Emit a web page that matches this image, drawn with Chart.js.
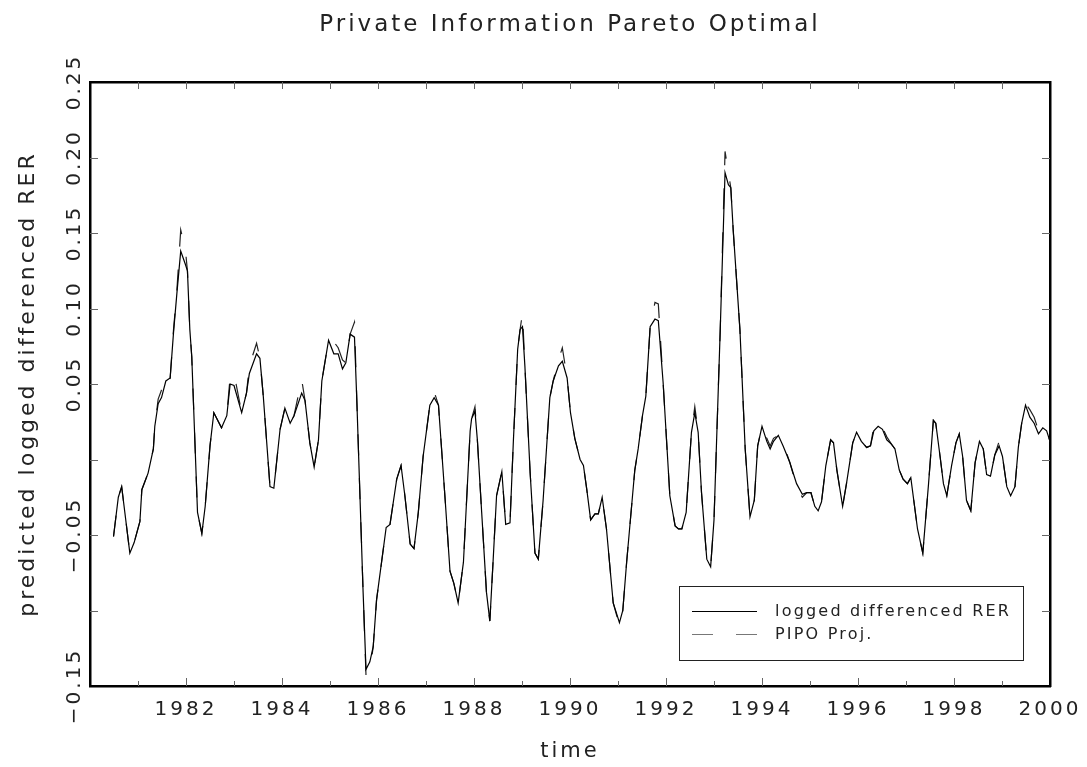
<!DOCTYPE html>
<html>
<head>
<meta charset="utf-8">
<script src="https://cdn.jsdelivr.net/npm/chart.js@4.4.1/dist/chart.umd.min.js"></script>
<style>
    html, body { margin: 0; padding: 0; background: #fff; }
    #PipoChart { display: block; }
</style>
</head>
<body>
<canvas id="PipoChart" width="1087" height="767"></canvas>
<script>
// vertex times (decimal years)
const obsTime = [
    1980.49, 1980.59, 1980.66, 1980.83, 1980.92, 1981.04, 1981.08, 1981.21, 1981.32, 1981.35,
    1981.42, 1981.49, 1981.58, 1981.67, 1981.74, 1981.81, 1981.89, 1981.99, 1982.03, 1982.08,
    1982.12, 1982.24, 1982.33, 1982.40, 1982.50, 1982.58, 1982.74, 1982.85, 1982.92, 1983.00,
    1983.16, 1983.26, 1983.32, 1983.47, 1983.54, 1983.61, 1983.75, 1983.83, 1983.96, 1984.06,
    1984.17, 1984.25, 1984.41, 1984.48, 1984.58, 1984.67, 1984.76, 1984.83, 1984.97, 1985.08,
    1985.17, 1985.26, 1985.33, 1985.42, 1985.51, 1985.56, 1985.69, 1985.75, 1985.83, 1985.90,
    1985.97, 1986.17, 1986.25, 1986.39, 1986.48, 1986.56, 1986.67, 1986.75, 1986.84, 1986.94,
    1987.08, 1987.17, 1987.26, 1987.40, 1987.50, 1987.58, 1987.67, 1987.78, 1987.92, 1987.95,
    1988.02, 1988.07, 1988.16, 1988.26, 1988.33, 1988.40, 1988.47, 1988.58, 1988.66, 1988.75,
    1988.82, 1988.91, 1988.96, 1989.01, 1989.06, 1989.17, 1989.27, 1989.34, 1989.44, 1989.58,
    1989.65, 1989.76, 1989.84, 1989.94, 1990.01, 1990.10, 1990.21, 1990.28, 1990.35, 1990.43,
    1990.52, 1990.59, 1990.67, 1990.76, 1990.90, 1991.03, 1991.10, 1991.18, 1991.35, 1991.42,
    1991.51, 1991.58, 1991.67, 1991.77, 1991.84, 1991.94, 1992.08, 1992.19, 1992.26, 1992.33,
    1992.42, 1992.53, 1992.60, 1992.67, 1992.74, 1992.85, 1992.93, 1993.00, 1993.13, 1993.23,
    1993.30, 1993.35, 1993.40, 1993.54, 1993.65, 1993.75, 1993.84, 1993.91, 1994.00, 1994.10,
    1994.17, 1994.24, 1994.34, 1994.44, 1994.58, 1994.72, 1994.84, 1994.93, 1995.02, 1995.10,
    1995.17, 1995.24, 1995.33, 1995.43, 1995.49, 1995.56, 1995.68, 1995.76, 1995.89, 1995.97,
    1996.07, 1996.18, 1996.26, 1996.33, 1996.42, 1996.51, 1996.60, 1996.70, 1996.77, 1996.86,
    1996.94, 1997.03, 1997.10, 1997.24, 1997.35, 1997.47, 1997.57, 1997.62, 1997.71, 1997.78,
    1997.85, 1997.95, 1998.04, 1998.11, 1998.18, 1998.26, 1998.35, 1998.44, 1998.53, 1998.61,
    1998.68, 1998.76, 1998.85, 1998.94, 1999.01, 1999.10, 1999.18, 1999.27, 1999.34, 1999.41,
    1999.49, 1999.58, 1999.67, 1999.76, 1999.85, 1999.93, 2000.00
];

const rerValues = [
    -0.051, -0.025, -0.018, -0.062, -0.055, -0.041, -0.020, -0.009, 0.007, 0.022,
    0.037, 0.041, 0.052, 0.054, 0.084, 0.110, 0.138, 0.129, 0.125, 0.086,
    0.068, -0.035, -0.049, -0.031, 0.009, 0.031, 0.021, 0.029, 0.050, 0.049,
    0.031, 0.044, 0.057, 0.070, 0.067, 0.042, -0.018, -0.019, 0.020, 0.034,
    0.024, 0.029, 0.044, 0.039, 0.011, -0.005, 0.013, 0.052, 0.079, 0.070,
    0.070, 0.060, 0.064, 0.083, 0.081, 0.038, -0.088, -0.139, -0.134, -0.124,
    -0.093, -0.045, -0.043, -0.013, -0.004, -0.024, -0.056, -0.059, -0.035, 0.002,
    0.036, 0.041, 0.036, -0.027, -0.074, -0.082, -0.095, -0.068, 0.019, 0.027,
    0.032, 0.013, -0.035, -0.088, -0.107, -0.066, -0.024, -0.008, -0.043, -0.042,
    0.012, 0.073, 0.086, 0.088, 0.062, -0.009, -0.062, -0.066, -0.027, 0.041,
    0.052, 0.062, 0.065, 0.054, 0.031, 0.014, 0.000, -0.004, -0.020, -0.040,
    -0.036, -0.036, -0.025, -0.046, -0.095, -0.108, -0.100, -0.068, -0.007, 0.007,
    0.029, 0.042, 0.088, 0.093, 0.092, 0.051, -0.024, -0.044, -0.046, -0.046,
    -0.035, 0.018, 0.031, 0.018, -0.022, -0.066, -0.071, -0.040, 0.086, 0.190,
    0.182, 0.180, 0.152, 0.086, 0.007, -0.038, -0.027, 0.009, 0.022, 0.012,
    0.007, 0.012, 0.016, 0.009, -0.002, -0.016, -0.023, -0.022, -0.022, -0.031,
    -0.034, -0.028, -0.004, 0.013, 0.011, -0.007, -0.031, -0.016, 0.011, 0.018,
    0.012, 0.008, 0.009, 0.019, 0.022, 0.020, 0.013, 0.010, 0.007, -0.007,
    -0.013, -0.016, -0.012, -0.046, -0.062, -0.016, 0.026, 0.024, 0.002, -0.016,
    -0.024, -0.004, 0.011, 0.017, 0.002, -0.027, -0.034, -0.002, 0.012, 0.007,
    -0.010, -0.011, 0.003, 0.009, 0.002, -0.018, -0.024, -0.018, 0.008, 0.024,
    0.036, 0.028, 0.024, 0.017, 0.021, 0.019, 0.012
];

const pipoValues = [
    -0.051, -0.025, -0.018, -0.062, -0.055, -0.041, -0.020, -0.009, 0.007, 0.022,
    0.040, 0.046, 0.057, 0.054, 0.086, 0.112, 0.152, 0.138, 0.125, 0.086,
    0.068, -0.035, -0.049, -0.031, 0.009, 0.031, 0.021, 0.029, 0.055, 0.057,
    0.031, 0.044, 0.062, 0.077, 0.067, 0.042, -0.018, -0.019, 0.020, 0.034,
    0.024, 0.029, 0.053, 0.039, 0.011, -0.005, 0.013, 0.052, 0.079, 0.078,
    0.074, 0.066, 0.064, 0.083, 0.091, 0.038, -0.088, -0.143, -0.140, -0.124,
    -0.093, -0.045, -0.043, -0.013, -0.004, -0.024, -0.056, -0.059, -0.035, 0.002,
    0.036, 0.045, 0.036, -0.027, -0.074, -0.082, -0.095, -0.068, 0.019, 0.027,
    0.035, 0.013, -0.035, -0.088, -0.107, -0.066, -0.024, -0.008, -0.043, -0.042,
    0.012, 0.073, 0.086, 0.097, 0.062, -0.009, -0.062, -0.066, -0.027, 0.041,
    0.052, 0.066, 0.074, 0.054, 0.031, 0.014, 0.000, -0.004, -0.020, -0.040,
    -0.036, -0.036, -0.025, -0.046, -0.095, -0.110, -0.100, -0.068, -0.007, 0.007,
    0.029, 0.042, 0.088, 0.104, 0.103, 0.051, -0.024, -0.044, -0.046, -0.046,
    -0.035, 0.018, 0.035, 0.018, -0.022, -0.066, -0.071, -0.040, 0.086, 0.204,
    0.190, 0.180, 0.152, 0.086, 0.007, -0.038, -0.027, 0.009, 0.022, 0.014,
    0.009, 0.014, 0.016, 0.011, -0.002, -0.018, -0.025, -0.022, -0.022, -0.031,
    -0.034, -0.028, -0.004, 0.013, 0.011, -0.007, -0.031, -0.016, 0.011, 0.018,
    0.012, 0.008, 0.009, 0.022, 0.025, 0.021, 0.015, 0.010, 0.007, -0.007,
    -0.013, -0.016, -0.012, -0.046, -0.062, -0.016, 0.026, 0.024, 0.002, -0.016,
    -0.024, -0.004, 0.011, 0.017, 0.002, -0.027, -0.034, -0.002, 0.012, 0.007,
    -0.010, -0.011, 0.003, 0.012, 0.002, -0.018, -0.024, -0.018, 0.008, 0.024,
    0.037, 0.033, 0.028, 0.019, 0.021, 0.019, 0.012
];

const seriesLabels = ["logged differenced RER", "PIPO Proj."];
const hiddenYLabels = [0, -0.10];   // the reference leaves these ticks unlabelled

const fontFamily = "'DejaVu Sans', sans-serif";
const inkColor = "#222";
const tickColor = "#666";

function toPoints(times, values) {
    return times.map(function (t, i) {
        return { x: t, y: values[i] };
    });
}

function formatY(value) {
    let v = Math.round(value * 100) / 100;
    if (hiddenYLabels.some(h => Math.abs(h - v) < 1e-9)) {
        return "";
    }
    let text = Math.abs(v).toFixed(2);
    return v < 0 ? "\u2212" + text : text;
}

// wide letter spacing like the original plotter font
const spacingPlugin = {
    id: "letterSpacing",
    beforeLayout: function (chart) { chart.ctx.letterSpacing = "3px"; },
    beforeDraw: function (chart) { chart.ctx.letterSpacing = "3px"; }
};

// tick marks pointing into the plot on all four sides
const innerTicksPlugin = {
    id: "innerTicks",
    afterDatasetsDraw: function (chart) {
        let ctx = chart.ctx;
        let area = chart.chartArea;
        let xScale = chart.scales.x;
        let yScale = chart.scales.y;
        ctx.save();
        ctx.strokeStyle = tickColor;
        ctx.lineWidth = 1;
        ctx.beginPath();
        xScale.ticks.forEach(function (tick) {
            if (tick.value <= 1980 || tick.value >= 2000) return;
            let px = Math.round(xScale.getPixelForValue(tick.value)) + 0.5;
            let len = tick.value % 2 === 0 ? 8 : 5;
            ctx.moveTo(px, area.bottom);
            ctx.lineTo(px, area.bottom - len);
            ctx.moveTo(px, area.top);
            ctx.lineTo(px, area.top + 7);
        });
        yScale.ticks.forEach(function (tick) {
            if (tick.value <= -0.149 || tick.value >= 0.249) return;
            let py = Math.round(yScale.getPixelForValue(tick.value)) + 0.5;
            ctx.moveTo(area.left, py);
            ctx.lineTo(area.left + 8, py);
            ctx.moveTo(area.right, py);
            ctx.lineTo(area.right - 8, py);
        });
        ctx.stroke();
        ctx.restore();
    }
};

// boxed legend in the lower right of the plot
const boxLegendPlugin = {
    id: "boxLegend",
    afterDraw: function (chart) {
        let ctx = chart.ctx;
        let area = chart.chartArea;
        let w = 344, h = 74;
        let left = area.right - 27 - w;
        let top = area.bottom - 26 - h;
        ctx.save();
        ctx.fillStyle = "#fff";
        ctx.fillRect(left, top, w, h);
        ctx.strokeStyle = "#222";
        ctx.lineWidth = 1;
        ctx.setLineDash([]);
        ctx.strokeRect(Math.round(left) + 0.5, Math.round(top) + 0.5, w, h);
        ctx.font = "16px " + fontFamily;
        ctx.letterSpacing = "2.2px";
        ctx.textBaseline = "middle";
        ctx.textAlign = "left";
        chart.data.datasets.forEach(function (ds, i) {
            let y = Math.round(top + 25 + i * 23) + 0.5;
            ctx.strokeStyle = ds.legendColor;
            ctx.lineWidth = 1.2;
            ctx.setLineDash(ds.borderDash || []);
            ctx.beginPath();
            ctx.moveTo(left + 13, y);
            ctx.lineTo(left + 78, y);
            ctx.stroke();
            ctx.fillStyle = inkColor;
            ctx.fillText(ds.label, left + 96, y);
        });
        ctx.restore();
    }
};

function setupPipoChart() {
    let context = document.getElementById("PipoChart").getContext("2d");
    let axisFont = { family: fontFamily, size: 20 };
    let noGrid = { display: false, drawTicks: false };

    let pipoChart = new Chart(context, {
        type: "line",
        data: {
            datasets: [{
                label: seriesLabels[0],
                data: toPoints(obsTime, rerValues),
                borderColor: "#000",
                legendColor: "#000",
                borderWidth: 1.2,
                pointRadius: 0,
                tension: 0,
                fill: false
            },
            {
                label: seriesLabels[1],
                data: toPoints(obsTime, pipoValues),
                borderColor: "#222",
                legendColor: "#777",
                borderWidth: 1.2,
                borderDash: [21, 23],
                pointRadius: 0,
                tension: 0,
                fill: false
            }]
        },
        options: {
            responsive: false,
            animation: false,
            events: [],
            layout: { padding: 0 },
            plugins: {
                legend: { display: false },
                title: { display: false },
                tooltip: { enabled: false }
            },
            scales: {
                x: {
                    type: "linear",
                    position: "bottom",
                    min: 1980,
                    max: 2000,
                    grid: noGrid,
                    border: { display: true, color: "#000", width: 2.5 },
                    ticks: {
                        stepSize: 1,
                        autoSkip: false,
                        maxRotation: 0,
                        padding: 12,
                        color: inkColor,
                        font: axisFont,
                        callback: function (value) {
                            return (value % 2 === 0 && value >= 1982) ? String(value) : "";
                        }
                    },
                    title: {
                        display: true,
                        text: "time",
                        color: inkColor,
                        font: { family: fontFamily, size: 21 },
                        padding: { top: 0, bottom: 3 }
                    },
                    afterFit: function (scale) {
                        scale.height = 81;
                        scale.paddingLeft = 0;
                        scale.paddingRight = 0;
                    }
                },
                xTop: {
                    type: "linear",
                    position: "top",
                    min: 1980,
                    max: 2000,
                    grid: noGrid,
                    border: { display: true, color: "#000", width: 2.5 },
                    ticks: { display: false, stepSize: 1, autoSkip: false },
                    title: {
                        display: true,
                        text: "Private Information Pareto Optimal",
                        color: inkColor,
                        font: { family: fontFamily, size: 23 },
                        padding: { top: 11, bottom: 0 }
                    },
                    afterFit: function (scale) {
                        scale.height = 82;
                        scale.paddingLeft = 0;
                        scale.paddingRight = 0;
                    }
                },
                y: {
                    type: "linear",
                    position: "left",
                    min: -0.15,
                    max: 0.25,
                    grid: noGrid,
                    border: { display: true, color: "#000", width: 2.5 },
                    ticks: {
                        stepSize: 0.05,
                        autoSkip: false,
                        minRotation: 90,
                        maxRotation: 90,
                        crossAlign: "center",
                        padding: -23,
                        color: inkColor,
                        font: axisFont,
                        callback: formatY
                    },
                    title: {
                        display: true,
                        text: "predicted logged differenced RER",
                        color: inkColor,
                        font: { family: fontFamily, size: 22 },
                        padding: { top: 15, bottom: 0 }
                    },
                    afterFit: function (scale) {
                        scale.width = 90;
                        scale.paddingTop = 0;
                        scale.paddingBottom = 0;
                    }
                },
                yRight: {
                    type: "linear",
                    position: "right",
                    min: -0.15,
                    max: 0.25,
                    grid: noGrid,
                    border: { display: true, color: "#000", width: 2.5 },
                    ticks: { display: false, stepSize: 0.05, autoSkip: false },
                    afterFit: function (scale) { scale.width = 37; }
                }
            }
        },
        plugins: [spacingPlugin, innerTicksPlugin, boxLegendPlugin]
    });
}

setupPipoChart();
</script>
</body>
</html>
